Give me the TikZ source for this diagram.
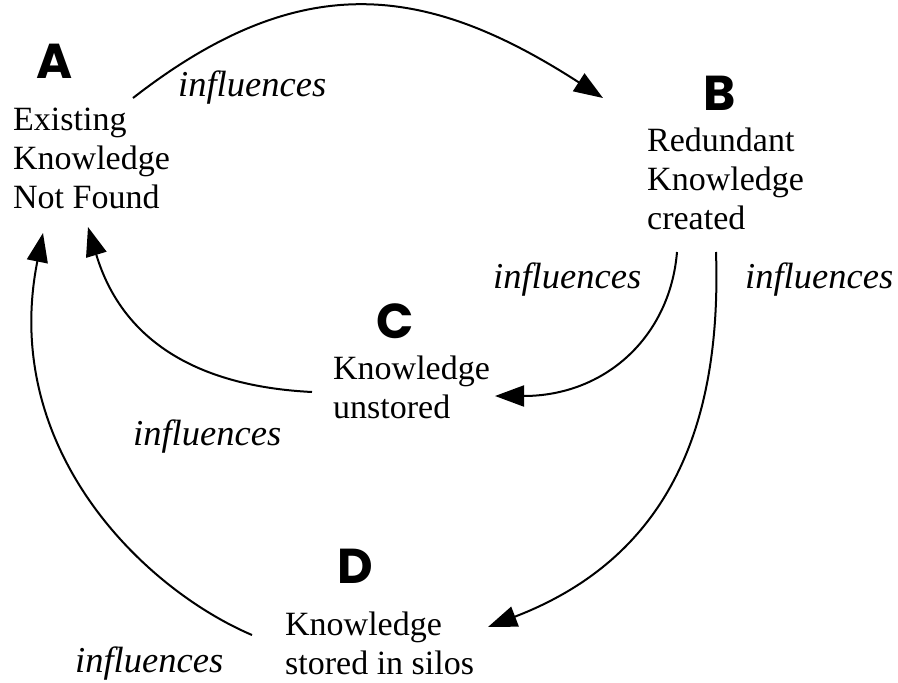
\documentclass[tikz,border=0pt]{standalone}
\usepackage{fontspec}
\setmainfont{Liberation Serif}
\newfontfamily\letterfont{Poppins}
\usetikzlibrary{arrows.meta}
\begin{document}
\begin{tikzpicture}[x=1pt,y=-1pt,
  letter/.style={inner sep=0pt,anchor=center,font=\letterfont\bfseries\fontsize{49}{49}\selectfont},
  concept/.style={inner sep=0pt,anchor=base west,align=left,font=\fontsize{34}{39}\selectfont},
  infl/.style={inner sep=0pt,anchor=base west,font=\itshape\fontsize{36.5}{40}\selectfont},
  link/.style={line width=2pt,-{Triangle[length=29pt,width=21pt]}}]
\useasboundingbox (0,0) rectangle (898,683);
% letters
\node[letter] (LA) at (55,61) {A};
\node[letter] (LB) at (720,93) {B};
\node[letter] (LC) at (395,321) {C};
\node[letter] (LD) at (355,566) {D};
% concepts (anchor = baseline of last line)
\node[concept] (A) at (13,208) {Existing\\Knowledge\\Not Found};
\node[concept] (B) at (647,229) {Redundant\\Knowledge\\created};
\node[concept] (C) at (333,418) {Knowledge\\unstored};
\node[concept] (D) at (285,674) {Knowledge\\stored in silos};
% labels
\node[infl] (i1) at (178,96) {influences};
\node[infl] (i2) at (493,288) {influences};
\node[infl] (i3) at (745,288) {influences};
\node[infl] (i4) at (133,445) {influences};
\node[infl] (i5) at (75,672) {influences};
% connector end points
\coordinate (abS) at (133,98);
\coordinate (abE) at (603,98);
\coordinate (bcS) at (677,252);
\coordinate (bcE) at (495,396);
\coordinate (bdS) at (716,252);
\coordinate (bdE) at (488,627);
\coordinate (caS) at (312,392);
\coordinate (caE) at (88,227);
\coordinate (daS) at (252,635);
\coordinate (daE) at (43,233);
% connectors
\draw[link] (abS) .. controls (300,-32) and (425,-17) .. (abE);
\draw[link] (bcS) .. controls (670,337) and (605,396) .. (bcE);
\draw[link] (bdS) .. controls (722,432) and (665,559) .. (bdE);
\draw[link] (caS) .. controls (192,386) and (121,337) .. (caE);
\draw[link] (daS) .. controls (142,588) and (0,448) .. (daE);
\end{tikzpicture}
\end{document}
